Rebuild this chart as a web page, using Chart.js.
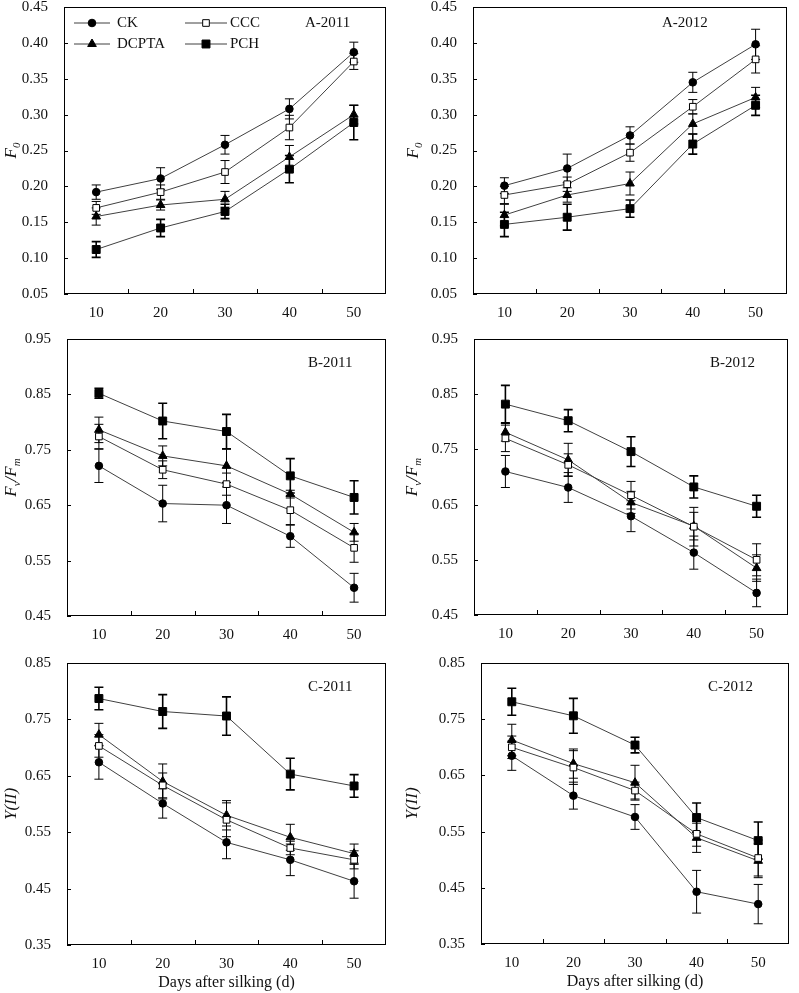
<!DOCTYPE html>
<html>
<head>
<meta charset="utf-8">
<script src="https://cdn.jsdelivr.net/npm/chart.js@4.4.0/dist/chart.umd.min.js"></script>
<style>
  html, body { margin: 0; padding: 0; background: #fff; }
  #wrap { position: relative; width: 799px; height: 993px; overflow: hidden; background: #fff; }
  #wrap canvas { position: absolute; left: 0; top: -20px; }
</style>
</head>
<body>
<div id="wrap"></div>
<script>
// ---- data ----
var days = ['10', '20', '30', '40', '50']
var seriesNames = ['CK', 'CCC', 'DCPTA', 'PCH']
var xTitle = 'Days after silking (d)'
var panelNames = ['A-2011', 'A-2012', 'B-2011', 'B-2012', 'C-2011', 'C-2012']

// rows: CK, CCC, DCPTA, PCH
var a2011 = [[0.192, 0.211, 0.258, 0.308, 0.387],
             [0.170, 0.192, 0.220, 0.282, 0.374],
             [0.158, 0.174, 0.182, 0.241, 0.300],
             [0.112, 0.142, 0.165, 0.224, 0.289]]
var a2011Err = [[0.010, 0.015, 0.013, 0.014, 0.014],
                [0.009, 0.010, 0.016, 0.017, 0.011],
                [0.012, 0.007, 0.011, 0.016, 0.013],
                [0.011, 0.012, 0.010, 0.019, 0.024]]

var a2012 = [[0.201, 0.225, 0.271, 0.345, 0.398],
             [0.188, 0.203, 0.247, 0.311, 0.377],
             [0.160, 0.188, 0.204, 0.287, 0.324],
             [0.147, 0.157, 0.169, 0.259, 0.313]]
var a2012Err = [[0.011, 0.020, 0.012, 0.014, 0.021],
                [0.012, 0.010, 0.012, 0.010, 0.019],
                [0.015, 0.010, 0.016, 0.014, 0.014],
                [0.017, 0.018, 0.012, 0.014, 0.014]]

var b2011 = [[0.721, 0.653, 0.650, 0.594, 0.501],
             [0.774, 0.714, 0.688, 0.641, 0.573],
             [0.786, 0.739, 0.721, 0.670, 0.601],
             [0.852, 0.802, 0.783, 0.703, 0.664]]
var b2011Err = [[0.030, 0.033, 0.033, 0.020, 0.026],
                [0.022, 0.016, 0.020, 0.026, 0.026],
                [0.023, 0.018, 0.030, 0.007, 0.016],
                [0.009, 0.032, 0.031, 0.031, 0.030]]

var b2012 = [[0.710, 0.681, 0.629, 0.563, 0.490],
             [0.770, 0.722, 0.667, 0.610, 0.550],
             [0.781, 0.731, 0.654, 0.611, 0.535],
             [0.832, 0.802, 0.746, 0.682, 0.647]]
var b2012Err = [[0.029, 0.027, 0.028, 0.030, 0.025],
                [0.024, 0.020, 0.025, 0.035, 0.029],
                [0.016, 0.030, 0.020, 0.025, 0.024],
                [0.034, 0.020, 0.027, 0.020, 0.020]]

var c2011 = [[0.674, 0.601, 0.532, 0.501, 0.463],
             [0.703, 0.633, 0.572, 0.522, 0.501],
             [0.723, 0.640, 0.580, 0.541, 0.512],
             [0.787, 0.764, 0.756, 0.653, 0.632]]
var c2011Err = [[0.030, 0.026, 0.029, 0.028, 0.030],
                [0.020, 0.022, 0.030, 0.012, 0.016],
                [0.020, 0.031, 0.026, 0.023, 0.017],
                [0.020, 0.030, 0.034, 0.028, 0.020]]

var c2012 = [[0.685, 0.614, 0.576, 0.443, 0.421],
             [0.700, 0.664, 0.623, 0.546, 0.503],
             [0.713, 0.671, 0.637, 0.539, 0.498],
             [0.781, 0.756, 0.704, 0.575, 0.534]]
var c2012Err = [[0.026, 0.024, 0.022, 0.038, 0.035],
                [0.020, 0.030, 0.015, 0.022, 0.032],
                [0.028, 0.026, 0.031, 0.026, 0.030],
                [0.024, 0.031, 0.014, 0.026, 0.033]]

var yMins = [0.05, 0.05, 0.45, 0.45, 0.35, 0.35]
var yMaxs = [0.45, 0.45, 0.95, 0.95, 0.85, 0.85]
var ySteps = [0.05, 0.05, 0.1, 0.1, 0.1, 0.1]

// y titles as [text, isSubscript] pieces
var yTitleF0 = [['F', false], ['0', true]]
var yTitleFvFm = [['F', false], ['v', true], ['/F', false], ['m', true]]
var yTitleY = [['Y(II)', false]]

// ---- layout ----
var W = 799, H = 1033, OY = 20, YW = 50, XH = 47
var FONT = "'Liberation Serif', 'Times New Roman', serif"
var INK = '#111'

var panels = [
  {means: a2011, errs: a2011Err, area: [64, 7, 386, 294], label: [305, 23], titleX: 12, yTitle: yTitleF0, legend: true, bottom: false},
  {means: a2012, errs: a2012Err, area: [473, 7, 787, 294], label: [662, 23], titleX: 414, yTitle: yTitleF0, legend: false, bottom: false},
  {means: b2011, errs: b2011Err, area: [67, 339, 386, 616], label: [308, 363], titleX: 12, yTitle: yTitleFvFm, legend: false, bottom: false},
  {means: b2012, errs: b2012Err, area: [474, 339, 788, 615], label: [710, 363], titleX: 413, yTitle: yTitleFvFm, legend: false, bottom: false},
  {means: c2011, errs: c2011Err, area: [67, 663, 386, 945], label: [308, 687], titleX: 12, yTitle: yTitleY, legend: false, bottom: true},
  {means: c2012, errs: c2012Err, area: [481, 663, 789, 944], label: [708, 687], titleX: 413, yTitle: yTitleY, legend: false, bottom: true}
]

var markerStyles = [
  {style: 'circle', radius: 3.8, fill: '#000', errWidth: 1},
  {style: 'rect', radius: 4.7, fill: '#fff', errWidth: 1},
  {style: 'triangle', radius: 5, fill: '#000', errWidth: 1},
  {style: 'rect', radius: 5.6, fill: '#000', errWidth: 1.6}
]

function drawMarker(ctx, s, x, y) {
  var m = markerStyles[s]
  ctx.save()
  ctx.fillStyle = m.fill
  ctx.strokeStyle = '#000'
  ctx.lineWidth = 1
  Chart.helpers.drawPoint(ctx, {pointStyle: m.style, radius: m.radius, rotation: 0, borderWidth: 1}, x, y)
  ctx.restore()
}

function drawRichTitle(ctx, parts, cx, cy) {
  var mainFont = 'italic 17px ' + FONT
  var subFont = 'italic 11px ' + FONT
  ctx.save()
  ctx.translate(cx, cy)
  ctx.rotate(-Math.PI / 2)
  ctx.fillStyle = INK
  ctx.textBaseline = 'middle'
  ctx.textAlign = 'left'
  var total = 0
  parts.forEach(function(p) {
    ctx.font = p[1] ? subFont : mainFont
    total += ctx.measureText(p[0]).width
  })
  var x = -total / 2
  parts.forEach(function(p) {
    ctx.font = p[1] ? subFont : mainFont
    ctx.fillText(p[0], x, p[1] ? 5 : 0)
    x += ctx.measureText(p[0]).width
  })
  ctx.restore()
}

var panelPlugin = {
  id: 'panelDecor',
  beforeDatasetsDraw: function(chart) {
    // error bars under the markers
    var ctx = chart.ctx
    var yScale = chart.scales.y
    ctx.save()
    ctx.strokeStyle = '#000'
    chart.data.datasets.forEach(function(ds, s) {
      var meta = chart.getDatasetMeta(s)
      ctx.lineWidth = markerStyles[s].errWidth
      ds.data.forEach(function(v, j) {
        var x = meta.data[j].x
        var yTop = yScale.getPixelForValue(v + ds.errs[j])
        var yBot = yScale.getPixelForValue(v - ds.errs[j])
        ctx.beginPath()
        ctx.moveTo(x, yTop); ctx.lineTo(x, yBot)
        ctx.moveTo(x - 4.5, yTop); ctx.lineTo(x + 4.5, yTop)
        ctx.moveTo(x - 4.5, yBot); ctx.lineTo(x + 4.5, yBot)
        ctx.stroke()
      })
    })
    ctx.restore()
  },
  afterDraw: function(chart) {
    var p = chart.options.plugins.panelDecor
    var ctx = chart.ctx
    var a = chart.chartArea
    var xScale = chart.scales.x, yScale = chart.scales.y
    ctx.save()
    ctx.strokeStyle = '#000'
    ctx.lineWidth = 1
    ctx.strokeRect(a.left + 0.5, a.top + 0.5, a.right - a.left - 1, a.bottom - a.top - 1)
    // inside tick marks
    ctx.beginPath()
    yScale.ticks.forEach(function(t) {
      var y = Math.round(yScale.getPixelForValue(t.value)) + 0.5
      ctx.moveTo(a.left, y); ctx.lineTo(a.left + 4, y)
    })
    for (var k = 1; k < days.length; k++) {
      var bx = Math.round((xScale.getPixelForValue(k - 1) + xScale.getPixelForValue(k)) / 2) + 0.5
      ctx.moveTo(bx, a.bottom); ctx.lineTo(bx, a.bottom - 5)
    }
    ctx.stroke()
    // panel label
    ctx.fillStyle = INK
    ctx.font = '15px ' + FONT
    ctx.textBaseline = 'middle'
    ctx.textAlign = 'left'
    ctx.fillText(p.name, p.label[0], p.label[1] + OY)
    // y title
    drawRichTitle(ctx, p.yTitle, p.titleX, (a.top + a.bottom) / 2)
    // legend
    if (p.legend) {
      var lineStart = [74, 185], lineEnd = [110, 227], textX = [117, 230], rowY = [23, 44]
      seriesNames.forEach(function(name, s) {
        var c = s % 2, r = Math.floor(s / 2)
        var y = rowY[r] + OY
        ctx.strokeStyle = '#404040'
        ctx.lineWidth = 1
        ctx.beginPath()
        ctx.moveTo(lineStart[c], y); ctx.lineTo(lineEnd[c], y)
        ctx.stroke()
        drawMarker(ctx, s, (lineStart[c] + lineEnd[c]) / 2, y)
        ctx.fillStyle = INK
        ctx.font = '15px ' + FONT
        ctx.fillText(name, textX[c], y)
      })
    }
    ctx.restore()
  }
}

var wrap = document.getElementById('wrap')

function makePanel(p, i) {
  var cv = document.createElement('canvas')
  cv.width = W
  cv.height = H
  wrap.appendChild(cv)
  var datasets = seriesNames.map(function(name, s) {
    var m = markerStyles[s]
    return {
      label: name,
      data: p.means[s],
      errs: p.errs[s],
      borderColor: '#404040',
      borderWidth: 1,
      pointStyle: m.style,
      pointRadius: m.radius,
      pointBackgroundColor: m.fill,
      pointBorderColor: '#000',
      pointBorderWidth: 1,
      tension: 0,
      fill: false
    }
  })
  var a = p.area
  new Chart(cv, {
    type: 'line',
    data: {labels: days, datasets: datasets},
    options: {
      responsive: false,
      animation: false,
      devicePixelRatio: 1,
      layout: {padding: {left: a[0] - YW, top: a[1] + OY, right: W - a[2], bottom: H - (a[3] + OY) - XH}},
      plugins: {
        legend: {display: false},
        tooltip: {enabled: false},
        panelDecor: {name: panelNames[i], label: p.label, titleX: p.titleX, yTitle: p.yTitle, legend: p.legend}
      },
      scales: {
        x: {
          type: 'category',
          offset: true,
          grid: {display: false, drawTicks: false},
          border: {display: false},
          ticks: {color: INK, font: {family: FONT, size: 15}, padding: 10, maxRotation: 0, autoSkip: false},
          title: {display: p.bottom, text: xTitle, color: INK, font: {family: FONT, size: 16}, padding: {top: 0, bottom: 0}},
          afterFit: function(s) { s.height = XH }
        },
        y: {
          min: yMins[i],
          max: yMaxs[i],
          grid: {display: false, drawTicks: false},
          border: {display: false},
          ticks: {stepSize: ySteps[i], color: INK, font: {family: FONT, size: 15}, padding: 16,
                  callback: function(v) { return v.toFixed(2) }},
          afterFit: function(s) { s.width = YW }
        }
      }
    },
    plugins: [panelPlugin]
  })
}

panels.forEach(makePanel)
</script>
</body>
</html>
